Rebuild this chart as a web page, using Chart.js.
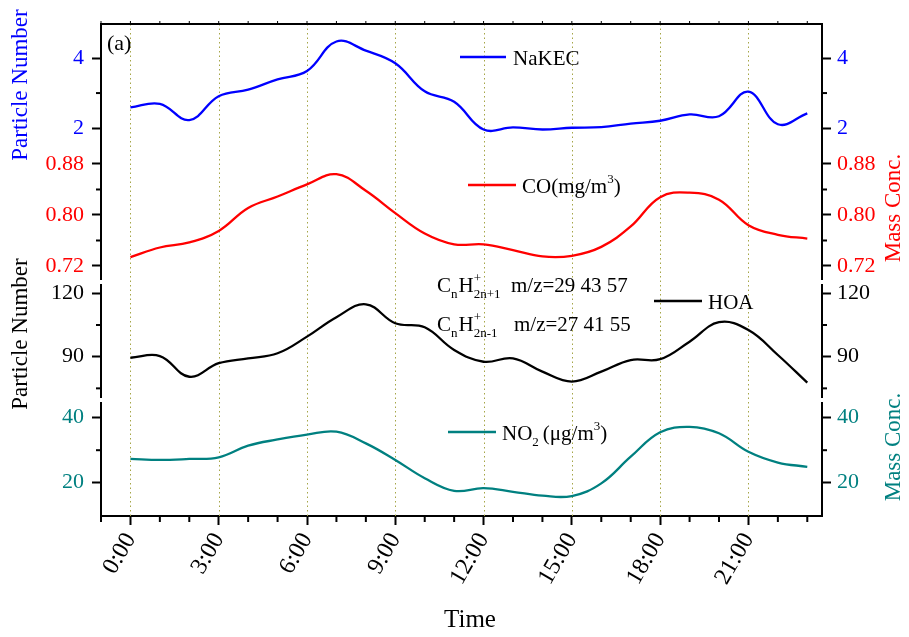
<!DOCTYPE html>
<html><head><meta charset="utf-8">
<script src="https://cdn.jsdelivr.net/npm/chart.js@4.4.1/dist/chart.umd.min.js"></script>
<style>html,body{margin:0;padding:0;background:#fff}#wrap{width:909px;height:637px;position:relative}</style>
</head><body><div id="wrap"><canvas id="c"></canvas></div>
<script>
const FONT = "'Liberation Serif', 'Times New Roman', serif";

// ---- data ----
const hours = [0,1,2,3,4,5,6,7,8,9,10,11,12,13,14,15,16,17,18,19,20,21,22,23];
const xTickValues = [-1,0,1,2,3,4,5,6,7,8,9,10,11,12,13,14,15,16,17,18,19,20,21,22,23];
const xMajorValues = [0,3,6,9,12,15,18,21];
const xTickLabels = ['0:00','3:00','6:00','9:00','12:00','15:00','18:00','21:00'];

const nakec = [2.59,2.69,2.23,2.91,3.10,3.39,3.63,4.47,4.21,3.85,3.05,2.75,1.96,2.02,1.96,2.01,2.03,2.13,2.21,2.39,2.34,3.04,2.11,2.42];
const coMass = [0.734,0.749,0.757,0.775,0.811,0.829,0.848,0.864,0.838,0.803,0.771,0.754,0.754,0.745,0.735,0.736,0.750,0.782,0.828,0.835,0.824,0.784,0.769,0.763];
const hoa = [89.5,90.3,80.5,86.9,89.2,91.6,99.5,108.7,114.8,105.8,103.9,93.2,87.6,89.2,82.9,78.2,82.9,88.4,88.8,97.1,106.3,102.6,90.8,77.7];
const no2 = [27.3,27.0,27.3,27.8,31.4,33.3,34.8,35.7,32.1,27.0,21.4,17.5,18.3,17.2,16.0,15.9,19.8,28.0,35.5,37.2,35.2,29.5,26.2,24.9];

const nakecTicks = [2,3,4];            const nakecTickLabels = ['2','','4'];
const coTicks = [0.72,0.76,0.80,0.84,0.88]; const coTickLabels = ['0.72','','0.80','','0.88'];
const hoaTicks = [75,90,105,120];      const hoaTickLabels = ['','90','','120'];
const no2Ticks = [20,30,40];           const no2TickLabels = ['20','','40'];

// ---- panels (layout) ----
const panels = [
  {n:1, name:'NaKEC', data:nakec, ticks:nakecTicks, labels:nakecTickLabels, min:1.49, max:4.97, h:122, color:'#0000ff'},
  {n:2, name:'CO', data:coMass, ticks:coTicks, labels:coTickLabels, min:0.6949, max:0.9082, h:136, color:'#ff0000'},
  {n:3, name:'HOA', data:hoa, ticks:hoaTicks, labels:hoaTickLabels, min:69.49, max:125.35, h:118, color:'#000000'},
  {n:4, name:'NO2', data:no2, ticks:no2Ticks, labels:no2TickLabels, min:9.75, max:45.45, h:116, color:'#008080'}
];

const LEFT_W = 101, RIGHT_W = 87, BOTTOM_H = 121, TOP_PAD = 24;

function yScale(side, p) {
  return {
    type:'linear', position:side, stack:side, stackWeight:p.h,
    weight: side === 'left' ? (5 - p.n) : p.n,
    min:p.min, max:p.max,
    afterBuildTicks: s => { s.ticks = p.ticks.map(v => ({value:v})); },
    afterFit: s => { s.width = side === 'left' ? LEFT_W : RIGHT_W; },
    ticks: {
      autoSkip:false, color:p.color, padding: side === 'left' ? 8 : 6,
      font:{family:FONT, size:22},
      callback: (v, i) => p.labels[i]
    },
    grid: {
      drawOnChartArea:false, drawTicks:true, tickLength:9, tickWidth:2,
      tickColor: c => (p.labels[c.index] ? '#000' : 'rgba(0,0,0,0)')
    },
    border: {display:true, color:'#000', width:2}
  };
}

const scales = {
  x: {
    type:'linear', position:'bottom', min:-1, max:23.5,
    afterBuildTicks: s => { s.ticks = xTickValues.map(v => ({value:v})); },
    afterFit: s => { s.height = BOTTOM_H; },
    ticks: {
      autoSkip:false, minRotation:60, maxRotation:60, color:'#000', padding:3,
      font:{family:FONT, size:24},
      callback: v => { const k = xMajorValues.indexOf(v); return k >= 0 ? xTickLabels[k] : ''; }
    },
    grid: {
      drawOnChartArea:false, tickLength:9, tickWidth:2,
      tickColor: c => (xMajorValues.includes(xTickValues[c.index]) ? '#000' : 'rgba(0,0,0,0)')
    },
    border: {display:true, color:'#000', width:2}
  }
};
panels.forEach(p => { scales['yL' + p.n] = yScale('left', p); scales['yR' + p.n] = yScale('right', p); });

const datasets = panels.map(p => ({
  label:p.name,
  data: hours.map((h, i) => ({x:h, y:p.data[i]})),
  yAxisID:'yL' + p.n, xAxisID:'x',
  borderColor:p.color, backgroundColor:p.color, borderWidth:2.3,
  pointRadius:0, tension:0.4, fill:false
}));

function richText(ctx, x, baseline, parts, size) {
  let cx = x;
  for (const pt of parts) {
    let fs = size, dy = 0;
    if (pt.m === 'sub') { fs = size * 0.62; dy = 6; }
    if (pt.m === 'sup') { fs = size * 0.62; dy = -10; }
    ctx.font = fs + 'px ' + FONT;
    ctx.fillText(pt.t, cx, baseline + dy);
    if (!pt.stay) cx += ctx.measureText(pt.t).width;
    if (pt.gap) cx += pt.gap;
  }
  return cx;
}

const deco = {
  id:'deco',
  beforeDatasetsDraw(chart) {
    const {ctx, chartArea:a} = chart; const xs = chart.scales.x;
    ctx.save();
    ctx.strokeStyle = 'rgb(165,165,70)'; ctx.lineWidth = 1; ctx.setLineDash([1.5, 3]);
    xMajorValues.forEach(v => {
      const px = Math.round(xs.getPixelForValue(v)) + 0.5;
      ctx.beginPath(); ctx.moveTo(px, a.top); ctx.lineTo(px, a.bottom); ctx.stroke();
    });
    ctx.restore();
  },
  afterDraw(chart) {
    const {ctx, chartArea:a} = chart; const xs = chart.scales.x;
    ctx.save();
    ctx.strokeStyle = '#000'; ctx.lineWidth = 2;
    // top frame
    ctx.beginPath(); ctx.moveTo(a.left - 1, a.top); ctx.lineTo(a.right + 1, a.top); ctx.stroke();
    ctx.lineWidth = 1;
    xTickValues.forEach(v => {
      const px = xs.getPixelForValue(v);
      ctx.beginPath(); ctx.moveTo(px, a.top); ctx.lineTo(px, a.top - 3); ctx.stroke();
    });
    ctx.lineWidth = 2;
    // minor ticks x
    xTickValues.forEach(v => {
      if (xMajorValues.includes(v)) return;
      const px = xs.getPixelForValue(v);
      ctx.beginPath(); ctx.moveTo(px, a.bottom); ctx.lineTo(px, a.bottom + 6); ctx.stroke();
    });
    // minor ticks y
    panels.forEach(p => {
      ['L','R'].forEach(side => {
        const s = chart.scales['y' + side + p.n];
        p.ticks.forEach((v, i) => {
          if (p.labels[i]) return;
          const py = s.getPixelForValue(v);
          const x0 = side === 'L' ? s.right : s.left;
          const x1 = side === 'L' ? x0 - 5 : x0 + 5;
          ctx.beginPath(); ctx.moveTo(x0, py); ctx.lineTo(x1, py); ctx.stroke();
        });
      });
    });
    // axis breaks
    ctx.fillStyle = '#fff';
    [3, 4].forEach(n => {
      const y = chart.scales['yL' + n].top;
      ctx.fillRect(a.left - 3, y - 2, 6, 4);
      ctx.fillRect(a.right - 3, y - 2, 6, 4);
    });
    // legends
    ctx.lineWidth = 2.3;
    const leg = (x0, x1, y, color) => { ctx.strokeStyle = color; ctx.beginPath(); ctx.moveTo(x0, y); ctx.lineTo(x1, y); ctx.stroke(); };
    ctx.fillStyle = '#000'; ctx.textBaseline = 'alphabetic'; ctx.textAlign = 'left';
    leg(460, 506, 57, panels[0].color);
    richText(ctx, 513, 65, [{t:'NaKEC'}], 21);
    leg(468, 516, 185, panels[1].color);
    richText(ctx, 522, 193, [{t:'CO(mg/m'}, {t:'3', m:'sup'}, {t:')'}], 21);
    leg(654, 702, 301, panels[2].color);
    richText(ctx, 708, 309, [{t:'HOA'}], 21);
    leg(448, 496, 432, panels[3].color);
    richText(ctx, 502, 440, [{t:'NO'}, {t:'2', m:'sub', gap:4}, {t:'(\u03bcg/m'}, {t:'3', m:'sup'}, {t:')'}], 21);
    // annotations
    richText(ctx, 437, 292, [{t:'C'}, {t:'n', m:'sub', gap:1}, {t:'H'}, {t:'+', m:'sup', stay:true}, {t:'2n+1', m:'sub'}], 21);
    richText(ctx, 511, 292, [{t:'m/z=29 43 57'}], 21);
    richText(ctx, 437, 331, [{t:'C'}, {t:'n', m:'sub', gap:1}, {t:'H'}, {t:'+', m:'sup', stay:true}, {t:'2n-1', m:'sub'}], 21);
    richText(ctx, 514, 331, [{t:'m/z=27 41 55'}], 21);
    // (a)
    richText(ctx, 107, 50, [{t:'(a)'}], 22);
    // axis titles
    const vTitle = (text, x, y, color) => {
      ctx.save(); ctx.translate(x, y); ctx.rotate(-Math.PI / 2);
      ctx.font = '23px ' + FONT; ctx.fillStyle = color; ctx.textAlign = 'center'; ctx.textBaseline = 'middle';
      ctx.fillText(text, 0, 0); ctx.restore();
    };
    vTitle('Particle Number', 21, 85, panels[0].color);
    vTitle('Particle Number', 21, 334, panels[2].color);
    vTitle('Mass Conc.', 894, 208, panels[1].color);
    vTitle('Mass Conc.', 894, 447, panels[3].color);
    ctx.font = '25px ' + FONT; ctx.fillStyle = '#000'; ctx.textAlign = 'center'; ctx.textBaseline = 'middle';
    ctx.fillText('Time', 470, 620);
    ctx.restore();
  }
};

new Chart(document.getElementById('c'), {
  type:'line',
  data:{datasets},
  options:{
    responsive:true, maintainAspectRatio:false, animation:false,
    layout:{padding:{top:TOP_PAD, left:0, right:0, bottom:0}},
    plugins:{legend:{display:false}, tooltip:{enabled:false}},
    scales
  },
  plugins:[deco]
});
</script></body></html>
